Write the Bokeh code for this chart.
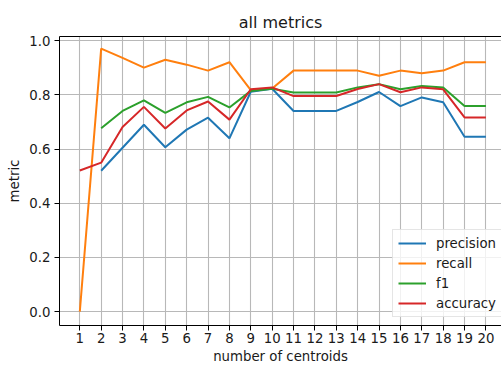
import math

from bokeh.embed import file_html
from bokeh.models import FixedTicker, Legend, LegendItem, LinearAxis, PrintfTickFormatter, Range1d, Title
from bokeh.plotting import figure
from bokeh.resources import INLINE

# number of centroids tried
centroids = list(range(1, 21))

nan = math.nan
precision = [nan, 0.520, 0.605, 0.690, 0.607, 0.672, 0.716, 0.640, 0.812, 0.823,
             0.741, 0.741, 0.741, 0.774, 0.811, 0.759, 0.791, 0.773, 0.646, 0.646]
recall = [0.000, 0.971, 0.937, 0.901, 0.930, 0.912, 0.890, 0.921, 0.818, 0.824,
          0.890, 0.890, 0.890, 0.890, 0.871, 0.890, 0.880, 0.890, 0.921, 0.921]
f1 = [nan, 0.677, 0.741, 0.780, 0.734, 0.773, 0.793, 0.754, 0.815, 0.823,
      0.809, 0.809, 0.809, 0.828, 0.840, 0.821, 0.833, 0.828, 0.759, 0.759]
accuracy = [0.521, 0.550, 0.682, 0.756, 0.676, 0.743, 0.776, 0.709, 0.821, 0.828,
            0.796, 0.796, 0.796, 0.822, 0.840, 0.810, 0.828, 0.821, 0.717, 0.717]

y_ticks = [0.0, 0.2, 0.4, 0.6, 0.8, 1.0]

series = [
    ("precision", precision, "#1f77b4"),
    ("recall", recall, "#ff7f0e"),
    ("f1", f1, "#2ca02c"),
    ("accuracy", accuracy, "#d62728"),
]

FONT = "DejaVu Sans"
TICK_SIZE = "13.3px"

p = figure(
    width=501, height=365,
    x_range=Range1d(0.05, 20.73), y_range=Range1d(-0.0515, 1.016),
    output_backend="svg", toolbar_location=None,
    min_border_left=59, min_border_right=0, min_border_top=36, min_border_bottom=39,
    title="all metrics",
)
p.background_fill_color = "white"
p.border_fill_color = "white"
p.outline_line_color = None

p.title.text_font = FONT
p.title.text_font_size = "16px"
p.title.text_font_style = "normal"
p.title.text_color = "#1a1a1a"
p.title.align = "center"

xa = p.below[0]
xa.ticker = FixedTicker(ticks=centroids)
ya = p.left[0]
ya.ticker = FixedTicker(ticks=y_ticks)
ya.formatter = PrintfTickFormatter(format="%.1f")
ya.axis_label = "metric"

for ax in (xa, ya):
    ax.axis_line_color = "black"
    ax.axis_line_width = 1
    ax.major_tick_line_color = "black"
    ax.major_tick_out = 5
    ax.major_tick_in = 0
    ax.minor_tick_out = 0
    ax.minor_tick_in = 0
    ax.major_label_text_font = FONT
    ax.major_label_text_font_size = TICK_SIZE
    ax.major_label_text_color = "#1a1a1a"
    ax.axis_label_text_font = FONT
    ax.axis_label_text_font_size = TICK_SIZE
    ax.axis_label_text_font_style = "normal"
    ax.axis_label_text_color = "#1a1a1a"

xa.major_label_standoff = 2
ya.major_label_standoff = 4
ya.axis_label_standoff = 4

# x-axis title, stacked under the tick labels
p.add_layout(Title(text="number of centroids", align="center", standoff=3, offset=0,
                   text_font=FONT, text_font_size=TICK_SIZE, text_font_style="normal",
                   text_color="#1a1a1a"), "below")

# top spine drawn as a bare axis
top = LinearAxis(ticker=FixedTicker(ticks=[]), major_tick_out=0, major_tick_in=0,
                 minor_tick_out=0, minor_tick_in=0, major_label_text_font_size="0px",
                 major_label_standoff=0, axis_line_color="black", axis_line_width=1)
p.add_layout(top, "above")

p.xgrid.ticker = FixedTicker(ticks=centroids)
p.ygrid.ticker = FixedTicker(ticks=y_ticks)
for g in (p.xgrid[0], p.ygrid[0]):
    g.grid_line_color = "#b8b8b8"
    g.grid_line_width = 1.1

items = []
for name, vals, color in series:
    r = p.line(centroids, vals, line_color=color, line_width=2)
    items.append(LegendItem(label=name, renderers=[r]))

legend = Legend(items=items, location=(333, 8), margin=0,
                padding=5, spacing=4, label_height=16, glyph_height=16, glyph_width=28,
                label_standoff=10, label_text_font=FONT, label_text_font_size=TICK_SIZE,
                label_text_color="#1a1a1a",
                border_line_color="#cccccc", border_line_width=1,
                background_fill_color="white", background_fill_alpha=0.8)
p.add_layout(legend)

open("out.html", "w").write(file_html(p, INLINE))
